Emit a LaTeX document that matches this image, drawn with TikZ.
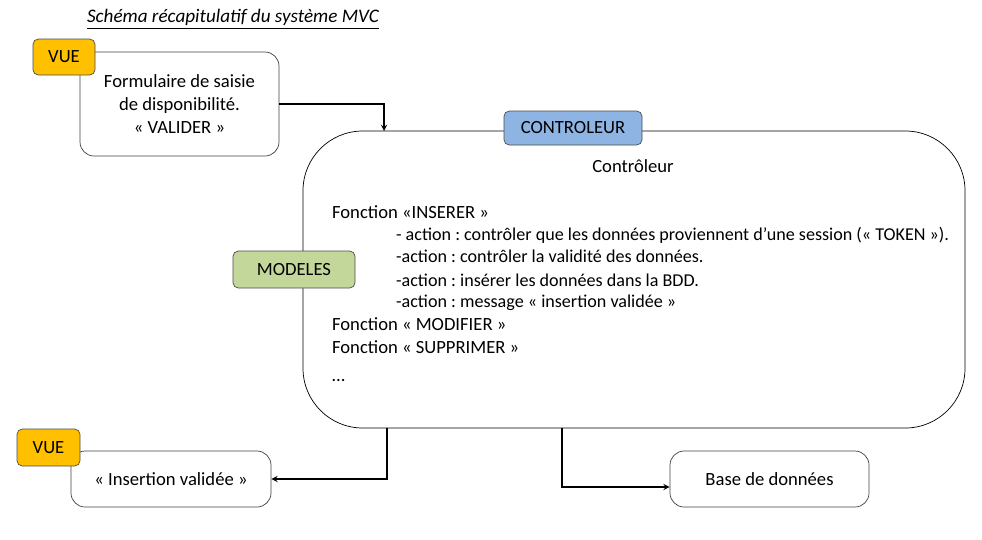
\documentclass[tikz,border=0pt]{standalone}
\usepackage{fontspec}
\setmainfont{Carlito}
\usepackage{tikz}

\definecolor{vueorange}{HTML}{FFC000}
\definecolor{ctrlblue}{HTML}{8DB4E2}
\definecolor{modgreen}{HTML}{C4D79B}

\begin{document}
\frenchspacing
\begin{tikzpicture}[x=0.02cm, y=-0.02cm]
        \useasboundingbox (0,0) rectangle (982,539);
        \begin{scope}[every node/.style={font=\fontsize{10.6}{13}\selectfont, inner sep=1},
                      box/.style={draw=black!75, rounded corners=8pt, align=center},
                      tag/.style={draw=black!70, rounded corners=3pt, inner sep=0},
                      line/.style={anchor=base west},
                      action/.style={anchor=base west, font=\fontsize{10.3}{13}\selectfont}]
                \node [font=\fontsize{10.9}{13}\selectfont\itshape] (titre) at (233,19) {\underline{Schéma récapitulatif du système MVC}};

                \node [box, minimum width=199*0.02cm, minimum height=104*0.02cm] (form) at (179.5,104) {Formulaire de saisie\\de disponibilité.\\« VALIDER »};
                \node [box, draw=black, rounded corners=34pt, minimum width=662*0.02cm, minimum height=297*0.02cm] (ctrl) at (634,279.5) {};
                \node [box, minimum width=200*0.02cm, minimum height=56*0.02cm] (insert) at (171,479) {« Insertion validée »};
                \node [box, minimum width=199*0.02cm, minimum height=56*0.02cm] (bdd) at (769.5,479) {Base de données};

                \node [tag, fill=vueorange, minimum width=62*0.02cm, minimum height=36*0.02cm] (vueA) at (64,57) {VUE};
                \node [tag, fill=ctrlblue, minimum width=138*0.02cm, minimum height=34*0.02cm] (ctrltag) at (573,128) {CONTROLEUR};
                \node [tag, fill=modgreen, minimum width=122*0.02cm, minimum height=37*0.02cm] (modeles) at (294,269.5) {MODELES};
                \node [tag, fill=vueorange, minimum width=63*0.02cm, minimum height=37*0.02cm] (vueB) at (48.5,447.5) {VUE};

                \node (ctrltitre) at (633,166) {Contrôleur};
                \node [line] (inserer) at (330,218) {Fonction «INSERER »};
                \node [action] (actA) at (394,240) {- action : contrôler que les données proviennent d’une session (« TOKEN »).};
                \node [action] (actB) at (394,262) {-action : contrôler la validité des données.};
                \node [action] (actC) at (394,286) {-action : insérer les données dans la BDD.};
                \node [action] (actD) at (394,307) {-action : message « insertion validée »};
                \node [line] (modifier) at (330,330) {Fonction « MODIFIER »};
                \node [line] (supprimer) at (330,353) {Fonction « SUPPRIMER »};
                \node [line] (suite) at (330,381) {…};
        \end{scope}

        \coordinate (entree) at (384,131);
        \coordinate (sortieA) at (387,428);
        \coordinate (sortieB) at (562,428);

        \draw [semithick, ->, >=stealth] (form.east) -| (entree);
        \draw [semithick, ->, >=stealth] (sortieA) |- (insert.east);
        \draw [semithick, ->, >=stealth] (sortieB) |- ([yshift=-0.16cm]bdd.west);
\end{tikzpicture}
\end{document}
